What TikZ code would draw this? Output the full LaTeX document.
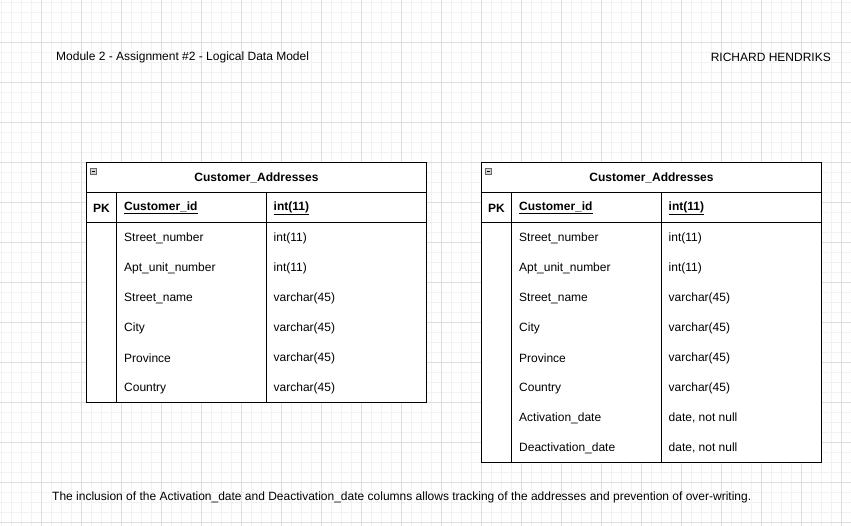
\documentclass[tikz,border=0pt]{standalone}
\usepackage{fontspec}
\setmainfont{Liberation Sans}
\definecolor{gridminor}{HTML}{F2F2F2}
\definecolor{gridmajor}{HTML}{DEDEDE}
\begin{document}
\begin{tikzpicture}[x=1pt,y=-1pt,
  txt/.style={inner sep=0pt,font=\fontsize{12}{14}\selectfont},
  lbl/.style={txt,anchor=west},
  tline/.style={line width=1pt,black},
  iconbox/.style={draw=gray!80!black,fill=gray!35,line width=0.6pt}]
\useasboundingbox (0,0) rectangle (851,526);
\fill[white] (0,0) rectangle (851,526);
% grid
\foreach \x in {1.5,11.5,...,851} \draw[gridminor,line width=1pt] (\x,0) -- (\x,526);
\foreach \y in {2.5,12.5,...,526} \draw[gridminor,line width=1pt] (0,\y) -- (851,\y);
\foreach \x in {41.5,81.5,...,851} \draw[gridmajor,line width=1pt] (\x,0) -- (\x,526);
\foreach \y in {42.5,82.5,...,526} \draw[gridmajor,line width=1pt] (0,\y) -- (851,\y);
% header texts
\node[lbl] (hdr) at (56,57.5) {Module 2 - Assignment \#2 - Logical Data Model};
\node[txt,anchor=east] (author) at (831,57.5) {RICHARD HENDRIKS};
\node[lbl] (note) at (52,497) {The inclusion of the Activation\_date and Deactivation\_date columns allows tracking of the addresses and prevention of over-writing.};
% ---------- left table ----------
\fill[white] (86.5,162.5) rectangle (426.5,402.5);
\draw[tline] (86.5,162.5) rectangle (426.5,402.5);
\draw[tline] (86.5,192.5) -- (426.5,192.5);
\draw[tline] (86.5,222.5) -- (426.5,222.5);
\draw[tline] (116.5,192.5) -- (116.5,402.5);
\draw[tline] (266.5,192.5) -- (266.5,402.5);
\draw[iconbox] (90.5,168.5) rectangle (96.5,174.5);
\draw[line width=0.8pt] (91.6,171.5) -- (95.4,171.5);
\node[txt,font=\fontsize{12}{14}\selectfont\bfseries] (lt) at (256.5,178) {Customer\_Addresses};
\node[txt,font=\fontsize{12}{14}\selectfont\bfseries] (lpk) at (101.5,208) {PK};
\node[lbl,font=\fontsize{12}{14}\selectfont\bfseries] (lid) at (124,208) {\underline{Customer\_id}};
\node[lbl,font=\fontsize{12}{14}\selectfont\bfseries] (lidt) at (273.5,208) {\underline{int(11)}};
\foreach \n/\t [count=\i] in {Street\_number/int(11),Apt\_unit\_number/int(11),Street\_name/varchar(45),City/varchar(45),Province/varchar(45),Country/varchar(45)}{
  \node[lbl] (lc\i) at (124,208.3+30*\i) {\n};
  \node[lbl] (lty\i) at (273.5,208.3+30*\i) {\t};
}
% ---------- right table ----------
\fill[white] (481.5,162.5) rectangle (821.5,462.5);
\draw[tline] (481.5,162.5) rectangle (821.5,462.5);
\draw[tline] (481.5,192.5) -- (821.5,192.5);
\draw[tline] (481.5,222.5) -- (821.5,222.5);
\draw[tline] (511.5,192.5) -- (511.5,462.5);
\draw[tline] (661.5,192.5) -- (661.5,462.5);
\draw[iconbox] (485.5,168.5) rectangle (491.5,174.5);
\draw[line width=0.8pt] (486.6,171.5) -- (490.4,171.5);
\node[txt,font=\fontsize{12}{14}\selectfont\bfseries] (rt) at (651.5,178) {Customer\_Addresses};
\node[txt,font=\fontsize{12}{14}\selectfont\bfseries] (rpk) at (496.5,208) {PK};
\node[lbl,font=\fontsize{12}{14}\selectfont\bfseries] (rid) at (519,208) {\underline{Customer\_id}};
\node[lbl,font=\fontsize{12}{14}\selectfont\bfseries] (ridt) at (668.5,208) {\underline{int(11)}};
\foreach \n/\t [count=\i] in {Street\_number/int(11),Apt\_unit\_number/int(11),Street\_name/varchar(45),City/varchar(45),Province/varchar(45),Country/varchar(45),Activation\_date/{date, not null},Deactivation\_date/{date, not null}}{
  \node[lbl] (rc\i) at (519,208.3+30*\i) {\n};
  \node[lbl] (rty\i) at (668.5,208.3+30*\i) {\t};
}
\end{tikzpicture}
\end{document}
